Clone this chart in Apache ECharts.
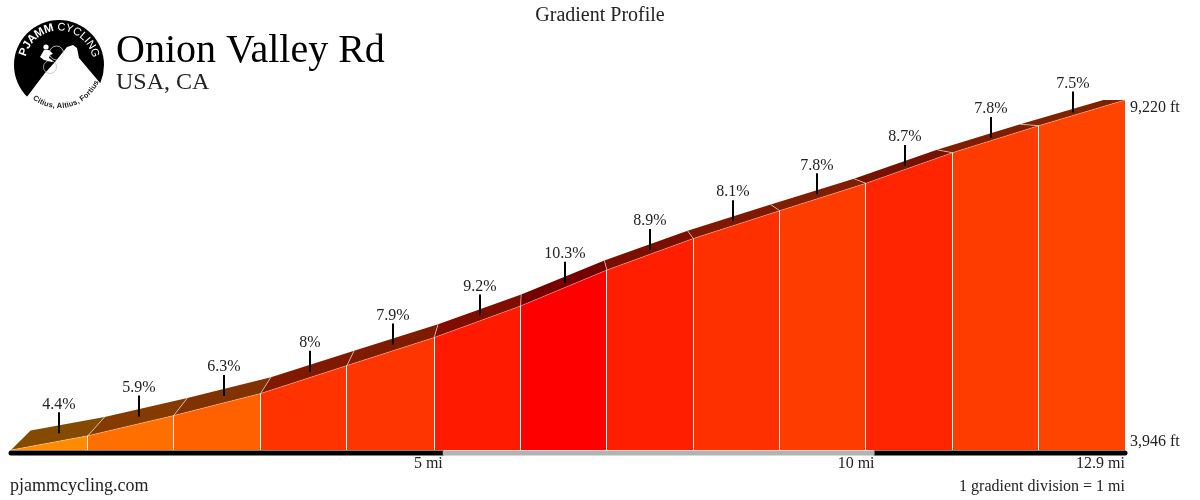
<!DOCTYPE html>
<html>
<head>
<meta charset="utf-8">
<style>html,body{margin:0;padding:0;background:#fff}#c{width:1200px;height:500px}</style>
<script src="https://cdn.jsdelivr.net/npm/echarts@6/dist/echarts.min.js"></script>
</head>
<body>
<div id="c"></div>
<script>
var distances = [0, 0.89, 1.885, 2.89, 3.89, 4.9, 5.9, 6.9, 7.9, 8.9, 9.9, 10.9, 11.9, 12.9];
var elevations = [3946, 4161, 4466, 4797, 5219, 5641, 6116, 6658, 7133, 7552, 7965, 8426, 8833, 9220];
var grades = ['4.4%', '5.9%', '6.3%', '8%', '7.9%', '9.2%', '10.3%', '8.9%', '8.1%', '7.8%', '8.7%', '7.8%', '7.5%'];
var tickDistances = [0.556, 1.482, 2.466, 3.462, 4.423, 5.43, 6.415, 7.4, 8.366, 9.339, 10.352, 11.348, 12.297];
var frontColors = ['#ff8c00', '#ff6f00', '#ff6000', '#ff3300', '#ff3500', '#ff1a00', '#ff0000', '#ff1e00', '#ff3000', '#ff3c00', '#ff2500', '#ff3c00', '#ff4400'];
var topColors = ['#844b00', '#853a00', '#803200', '#7f1a00', '#7f1b00', '#7f0d00', '#750000', '#7a0f00', '#7f1800', '#7f1e00', '#751200', '#7f1e00', '#7f2200'];
var barStops = [0, 5, 10, 12.9];
var barColors = ['#000000', '#b3b3b3', '#000000'];
var xTicks = [5, 10, 12.9];
var yTicks = [3946, 9220];

var FONT = '"Liberation Serif", "Times New Roman", serif';
var TEXT = '#222';

function back(p) {
  return [p[0] + (540 - p[0]) * 0.037, p[1] - (p[1] - 100) * 0.0555];
}
function renderSegment(params, api) {
  var i = api.value(0);
  var base = api.value(5);
  var a = api.coord([api.value(1), api.value(3)]);
  var b = api.coord([api.value(2), api.value(4)]);
  var a0 = api.coord([api.value(1), base]);
  var b0 = api.coord([api.value(2), base]);
  var ba = back(a), bb = back(b);
  var midY = (a[1] + b[1] + ba[1] + bb[1]) / 4;
  var tickX = Math.round(api.coord([api.value(6), base])[0]);
  var sepX = Math.floor(b0[0]) + 0.5;
  var children = [
    { type: 'polygon', shape: { points: [a, b, bb, ba] }, style: { fill: topColors[i] } },
    { type: 'polygon', shape: { points: [a0, b0, b, a] }, style: { fill: frontColors[i] } },
    { type: 'line', shape: { x1: a[0], y1: a[1], x2: b[0], y2: b[1] }, style: { stroke: 'rgba(255,255,255,0.3)', lineWidth: 1 } }
  ];
  if (i < grades.length - 1) {
    children.push({ type: 'line', z2: 2, shape: { x1: sepX, y1: b0[1], x2: sepX, y2: b[1] }, style: { stroke: '#fff', lineWidth: 1 } });
    children.push({ type: 'line', z2: 2, shape: { x1: b[0], y1: b[1], x2: bb[0], y2: bb[1] }, style: { stroke: 'rgba(255,255,255,0.55)', lineWidth: 1 } });
  }
  children.push({ type: 'line', z2: 5, shape: { x1: tickX, y1: midY, x2: tickX, y2: midY - 21 }, style: { stroke: '#000', lineWidth: 2 } });
  children.push({ type: 'text', z2: 5, x: tickX, y: midY - 29, style: { text: grades[i], font: '16px ' + FONT, fill: TEXT, textAlign: 'center', textVerticalAlign: 'middle' } });
  return { type: 'group', children: children };
}
function renderBar(params, api) {
  var p = api.coord([api.value(0), api.value(2)]);
  var q = api.coord([api.value(1), api.value(2)]);
  return { type: 'line', shape: { x1: p[0], y1: p[1] + 3, x2: q[0], y2: q[1] + 3 },
    style: { stroke: api.value(3) === 1 ? barColors[1] : barColors[0], lineWidth: 5, lineCap: api.value(3) === 1 ? 'butt' : 'round' } };
}

var segData = grades.map(function (g, i) {
  return [i, distances[i], distances[i + 1], elevations[i], elevations[i + 1], elevations[0], tickDistances[i]];
});
var barData = barColors.map(function (c, i) {
  return [barStops[i], barStops[i + 1], elevations[0], i];
}).sort(function (a, b) { return b[3] === 1 ? -1 : 1; });

/* ---- logo and page text ---- */
var logoTop1 = 'PJAMM', logoTop2 = 'CYCLING', logoBottom = 'Citius, Altius, Fortius';
var LC = [59, 65];
var measure = document.createElement('canvas').getContext('2d');
function arcText(str, font, fill, radius, startDeg, top, spacing) {
  measure.font = font;
  var out = [], ang = startDeg;
  for (var k = 0; k < str.length; k++) {
    var w = measure.measureText(str[k]).width + spacing;
    var th = (ang + (w / 2) / radius * 180 / Math.PI) * Math.PI / 180;
    out.push({
      type: 'text', z: 3, rotation: top ? -th : th,
      x: LC[0] + radius * Math.sin(th),
      y: top ? LC[1] - radius * Math.cos(th) : LC[1] + radius * Math.cos(th),
      style: { text: str[k], font: font, fill: fill, textAlign: 'center', textVerticalAlign: 'middle' }
    });
    ang += w / radius * 180 / Math.PI;
  }
  return out;
}
function pageText(text, x, y, size, align, color) {
  return { type: 'text', x: x, y: y, z: 3, style: { text: text, font: size + 'px ' + FONT, fill: color || TEXT, textAlign: align || 'left', textVerticalAlign: 'middle' } };
}
var graphics = [
  { type: 'circle', shape: { cx: LC[0], cy: LC[1], r: 45 }, style: { fill: '#000' }, z: 1 },
  { type: 'polygon', z: 2, shape: { points: [[23, 102], [45, 73], [55, 62], [67, 47], [73, 45], [77, 48], [79, 58], [106, 90], [112, 116], [18, 116]] }, style: { fill: '#fff' } },
  { type: 'circle', z: 3, shape: { cx: 56.5, cy: 53, r: 7 }, style: { fill: 'none', stroke: '#ddd', lineWidth: 0.8 } },
  { type: 'circle', z: 3, shape: { cx: 50, cy: 67, r: 6.5 }, style: { fill: 'none', stroke: '#bbb', lineWidth: 0.8 } },
  { type: 'circle', z: 3, shape: { cx: 46, cy: 47, r: 2.6 }, style: { fill: '#fff' } },
  { type: 'polygon', z: 3, shape: { points: [[44, 50], [49, 50], [53, 54], [50, 55], [49, 58], [53, 61], [52, 62], [44, 60], [40, 57]] }, style: { fill: '#fff' } },
  pageText('Gradient Profile', 600, 16, 20, 'center'),
  pageText('Onion Valley Rd', 116, 51, 40, 'left', '#000'),
  pageText('USA, CA', 116, 83, 24),
  pageText('pjammcycling.com', 10, 486, 18),
  pageText('1 gradient division = 1 mi', 1125, 487, 16, 'right')
].concat(
  arcText(logoTop1, 'bold 11.5px "Liberation Sans", Arial, sans-serif', '#fff', 37.5, -76, true, 0.6),
  arcText(logoTop2, '11px "Liberation Sans", Arial, sans-serif', '#fff', 37.5, -3, true, 0.6),
  arcText(logoBottom, 'bold 7.5px "Liberation Sans", Arial, sans-serif', '#222', 41, -38, false, 0)
);

var chart = echarts.init(document.getElementById('c'), null, { renderer: 'canvas' });
chart.setOption({
  animation: false,
  backgroundColor: '#fff',
  grid: { left: 11, right: 75, top: 100, bottom: 50 },
  xAxis: {
    type: 'value', min: 0, max: 12.9,
    axisLine: { show: false }, axisTick: { show: false }, splitLine: { show: false },
    axisLabel: { customValues: xTicks, formatter: function (v) { return v + ' mi'; }, align: 'right', margin: 6, fontFamily: FONT, fontSize: 16, color: TEXT, hideOverlap: false }
  },
  yAxis: {
    type: 'value', position: 'right', min: elevations[0], max: elevations[elevations.length - 1],
    axisLine: { show: false }, axisTick: { show: false }, splitLine: { show: false },
    axisLabel: { customValues: yTicks, formatter: function (v) { return v.toLocaleString('en-US') + ' ft'; }, margin: 5, fontFamily: FONT, fontSize: 16, color: TEXT, verticalAlignMinLabel: 'bottom', verticalAlignMaxLabel: 'top' }
  },
  series: [
    { type: 'custom', renderItem: renderSegment, data: segData, clip: false, silent: true, encode: { x: [1, 2], y: [3, 4] } },
    { type: 'custom', renderItem: renderBar, data: barData, clip: false, silent: true, z: 3, encode: { x: [0, 1], y: 2 } }
  ],
  graphic: { elements: graphics }
});
</script>
</body>
</html>
